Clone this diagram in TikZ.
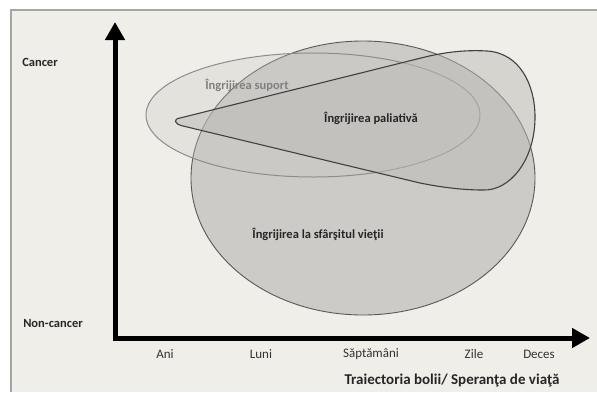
\documentclass[tikz,border=0pt]{standalone}
\usepackage{fontspec}
\setmainfont{Carlito}
\usetikzlibrary{arrows.meta}
\definecolor{paper}{RGB}{240,238,233}
\definecolor{framegray}{RGB}{165,165,165}
\definecolor{endfill}{RGB}{204,203,199}
\definecolor{supfill}{RGB}{200,199,195}
\definecolor{palfill}{RGB}{188,187,183}
\tikzset{
  axisline/.style={line width=5bp,
    {Triangle[length=18bp,width=19bp]}-{Triangle[length=18bp,width=19bp]}},
  lab/.style={font=\bfseries\fontsize{12.5bp}{14bp}\selectfont, text=black!85},
  ticklab/.style={font=\fontsize{13bp}{15bp}\selectfont, text=black!80}
}
\begin{document}
\begin{tikzpicture}[x=1bp,y=-1bp]
    \useasboundingbox (0,0) rectangle (597,392);
    % background
    \fill[paper] (11,10) rectangle (597,392);
    \draw[framegray,line width=1.2bp] (597,10) -- (11,10) -- (11,392);
    % care zones
    \draw[black!65,fill=endfill,line width=0.9bp]
        (363,178) ellipse [x radius=172, y radius=137];
    \draw[black!45,fill=supfill,fill opacity=0.3,line width=1bp]
        (313,115) ellipse [x radius=167, y radius=62];
    \draw[black!75,fill=palfill,fill opacity=0.5,line width=1.1bp]
        (180,118) -- (425,57) .. controls (450,51) and (470,50) .. (487,51)
        .. controls (520,53) and (535,85) .. (535,117)
        .. controls (535,160) and (510,191) .. (483,190)
        .. controls (465,190) and (445,188) .. (420,183)
        -- (183,126) .. controls (174,124) and (173,119) .. (180,118) -- cycle;
    \node[lab,text=black!50] (suport) at (247,85) {Îngrijirea suport};
    \node[lab] (paliativ) at (371,118) {Îngrijirea paliativă};
    \node[lab] (sfarsit) at (318,234) {Îngrijirea la sfârşitul vieţii};
    % axes
    \coordinate (ytip) at (115,22);
    \coordinate (origin) at (115,338);
    \coordinate (xtip) at (590,338);
    \draw[axisline] (ytip) -- (origin) -- (xtip);
    \node[lab] (cancer) at (40,62) {Cancer};
    \node[lab] (noncancer) at (53,323) {Non-cancer};
    \node[ticklab] (ani) at (165,354) {Ani};
    \node[ticklab] (luni) at (261,354) {Luni};
    \node[ticklab] (sapt) at (371,354) {Săptămâni};
    \node[ticklab] (zile) at (474,354) {Zile};
    \node[ticklab] (deces) at (539,354) {Deces};
    \node[lab,font=\bfseries\fontsize{15bp}{17bp}\selectfont] (traiect) at (452,380)
        {Traiectoria bolii/ Speranţa de viaţă};
\end{tikzpicture}
\end{document}
